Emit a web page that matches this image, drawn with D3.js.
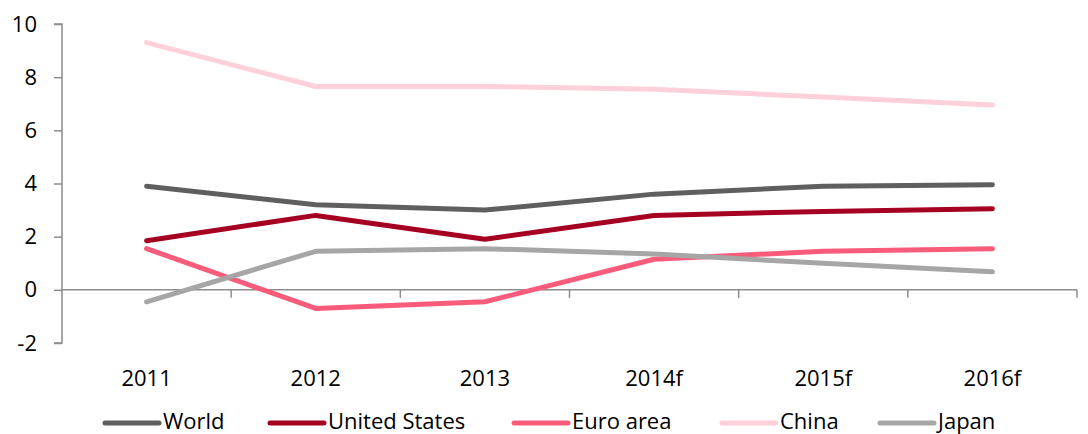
<!DOCTYPE html>
<html><head><meta charset="utf-8">
<script src="https://cdn.jsdelivr.net/npm/d3@7"></script>
<style>body{margin:0;background:#fff;} text{font-family:"Open Sans","Noto Sans",sans-serif;fill:#000;}</style>
</head><body><svg id="c" width="1088" height="434"></svg>
<script>
const categories = ["2011","2012","2013","2014f","2015f","2016f"];
const world = [3.9,3.2,3.0,3.6,3.9,3.95];
const unitedStates = [1.85,2.8,1.9,2.8,2.95,3.05];
const euroArea = [1.55,-0.7,-0.45,1.15,1.45,1.55];
const china = [9.3,7.65,7.65,7.55,7.25,6.95];
const japan = [-0.45,1.45,1.55,1.35,1.0,0.68];
const yTicks = [-2,0,2,4,6,8,10];
const seriesNames = ["World","United States","Euro area","China","Japan"];
const seriesColors = ["#5f5f5f","#a50021","#f95b7a","#fdd0da","#a6a6a6"];
const seriesValues = [world,unitedStates,euroArea,china,japan];

const svg = d3.select("#c");
const pL=62, pR=1077, pT=24, pB=343;
const FS = 22;
const x = d3.scaleBand().domain(categories).range([pL,pR]);
const y = d3.scaleLinear().domain([-2,10]).range([pB,pT]);

// y axis
const ya = svg.append("g").attr("transform",`translate(${pL},0)`)
  .call(d3.axisLeft(y).tickValues(yTicks).tickSize(8).tickFormat(d=>String(d)));
ya.select(".domain").attr("stroke","#8c8c8c").attr("stroke-width",1.5).attr("d",`M-8,${y(10)}H0V${y(-2)}H-8`);
ya.selectAll(".tick line").attr("stroke","#8c8c8c").attr("stroke-width",1.5);
ya.selectAll(".tick text").attr("font-size",FS).attr("x",-25).attr("font-family","Open Sans").attr("fill","#000");

// x axis at 0
const xa = svg.append("g").attr("transform",`translate(0,${y(0)})`)
  .call(d3.axisBottom(x).tickSize(0).tickPadding(0).tickFormat(""));
xa.select(".domain").attr("stroke","#8c8c8c").attr("stroke-width",1.5).attr("d",`M${pL},0H${pR}`);
const bounds = categories.map(c=>x(c)).concat([pR]);
xa.selectAll(".sep").data(bounds.slice(1)).enter().append("line").attr("class","sep")
  .attr("x1",d=>d).attr("x2",d=>d).attr("y1",0).attr("y2",8).attr("stroke","#8c8c8c").attr("stroke-width",1.5);

// category labels
svg.append("g").selectAll("text").data(categories).enter().append("text")
  .attr("x",d=>x(d)+x.bandwidth()/2).attr("y",386).attr("text-anchor","middle").attr("font-size",FS).text(d=>d);

// lines
const line = d3.line().x((d,i)=>x(categories[i])+x.bandwidth()/2).y(d=>y(d));
seriesValues.forEach((vals,k)=>{
  svg.append("path").datum(vals).attr("d",line).attr("fill","none")
    .attr("stroke",seriesColors[k]).attr("stroke-width",5).attr("stroke-linecap","round").attr("stroke-linejoin","round");
});

// legend
const legX = [105,270,514,722,880];
seriesNames.forEach((n,k)=>{
  const g = svg.append("g").attr("transform",`translate(${legX[k]},423)`);
  g.append("line").attr("x1",0).attr("x2",54).attr("stroke",seriesColors[k]).attr("stroke-width",5).attr("stroke-linecap","round");
  g.append("text").attr("x",58).attr("y",6).attr("font-size",FS).text(n);
});
</script></body></html>
